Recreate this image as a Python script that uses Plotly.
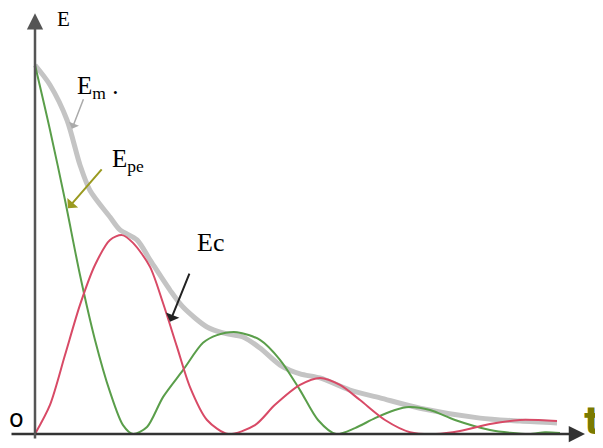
import plotly.graph_objects as go

# Epe (green)
t_pe = [0, .15, .3, .45, .6, .75, .88, .98, 1.12, 1.28, 1.48, 1.68, 1.82, 2.02, 2.25, 2.45, 2.65, 2.83,
        3.01, 3.2, 3.4, 3.6, 3.74, 3.95, 4.2, 4.55, 4.94, 5.1, 5.25]
E_pe = [1.0, .824, .634, .431, .255, .114, .024, 0, .019, .1, .173, .247, .268, .276, .255, .201, .119,
        .038, 0, .016, .043, .065, .073, .065, .038, .011, 0, .005, .003]
# Ec (red)
t_c = [0, .15, .3, .45, .6, .75, .87, .98, 1.15, 1.28, 1.42, 1.55, 1.72, 1.93, 2.2, 2.4, 2.65, 2.85, 3.05, 3.25,
       3.5, 3.75, 4.01, 4.25, 4.55, 4.85, 5.22]
E_c = [0, .079, .214, .35, .458, .526, .539, .518, .453, .355, .236, .127, .038, 0, .024, .079, .133, .152, .133,
       .092, .038, .005, 0, .008, .027, .038, .035]
# Em (gray)
t_m = [0, .15, .32, .45, .55, .75, .85, 1.02, 1.15, 1.35, 1.48, 1.72, 1.88, 2.08, 2.25, 2.45, 2.65, 2.85, 3.15,
       3.45, 3.85, 4.45, 4.85, 5.22]
E_m = [1.0, .946, .851, .729, .66, .588, .553, .526, .472, .39, .344, .29, .274, .263, .233, .187, .163, .152,
       .119, .098, .070, .043, .035, .030]

fig = go.Figure()
fig.add_trace(go.Scatter(x=t_m, y=E_m, mode="lines",
                         line=dict(color="#c4c4c4", width=5, shape="spline", smoothing=0.8), hoverinfo="skip"))
fig.add_trace(go.Scatter(x=t_pe, y=E_pe, mode="lines",
                         line=dict(color="#5a9e4a", width=2, shape="spline", smoothing=0.8), hoverinfo="skip"))
fig.add_trace(go.Scatter(x=t_c, y=E_c, mode="lines",
                         line=dict(color="#d84a66", width=2, shape="spline", smoothing=0.8), hoverinfo="skip"))

serif = "Liberation Serif, Times New Roman, serif"
ann = []
# axes
ann.append(dict(x=5.5, y=0, ax=-0.25, ay=0, xref="x", yref="y", axref="x", ayref="y", text="",
                showarrow=True, arrowhead=2, arrowsize=1.3, arrowwidth=2.5, arrowcolor="#333333"))
ann.append(dict(x=0, y=1.14, ax=0, ay=-0.016, xref="x", yref="y", axref="x", ayref="y", text="",
                showarrow=True, arrowhead=2, arrowsize=1.3, arrowwidth=2.5, arrowcolor="#555555"))
# pointer arrows
ann.append(dict(x=.37, y=.827, ax=.49, ay=.911, xref="x", yref="y", axref="x", ayref="y", text="",
                showarrow=True, arrowhead=1, arrowsize=1.2, arrowwidth=1.5, arrowcolor="#aaaaaa"))
ann.append(dict(x=.33, y=.612, ax=.68, ay=.721, xref="x", yref="y", axref="x", ayref="y", text="",
                showarrow=True, arrowhead=1, arrowsize=1.2, arrowwidth=2, arrowcolor="#9a9a20"))
ann.append(dict(x=1.35, y=.304, ax=1.55, ay=.439, xref="x", yref="y", axref="x", ayref="y", text="",
                showarrow=True, arrowhead=1, arrowsize=1.2, arrowwidth=2, arrowcolor="#222222"))
# labels
ann.append(dict(x=.28, y=1.125, xref="x", yref="y", text="E", showarrow=False,
                font=dict(family=serif, size=21, color="black")))
ann.append(dict(x=.62, y=.94, xref="x", yref="y", text="E<sub>m</sub> .", showarrow=False,
                font=dict(family=serif, size=25, color="black")))
ann.append(dict(x=.93, y=.74, xref="x", yref="y", text="E<sub>pe</sub>", showarrow=False,
                font=dict(family=serif, size=25, color="black")))
ann.append(dict(x=1.75, y=.52, xref="x", yref="y", text="Ec", showarrow=False,
                font=dict(family=serif, size=26, color="black")))
ann.append(dict(x=-.19, y=.04, xref="x", yref="y", text="o", showarrow=False,
                font=dict(family="DejaVu Sans", size=24, color="black")))
ann.append(dict(x=5.47, y=.035, xref="x", yref="y", text="<b>t</b>", showarrow=False, xanchor="left",
                font=dict(family="DejaVu Sans", size=38, color="#7a7a00")))

# the page draws the figure 8 px from the top-left corner; ranges compensate for that offset
fig.update_layout(
    width=603, height=448, margin=dict(l=0, r=0, t=0, b=0),
    paper_bgcolor="white", plot_bgcolor="white", showlegend=False,
    xaxis=dict(range=[-0.27, 5.76], visible=False, fixedrange=True),
    yaxis=dict(range=[-0.0596, 1.1545], visible=False, fixedrange=True),
    annotations=ann,
)
fig.write_html("out.html")
